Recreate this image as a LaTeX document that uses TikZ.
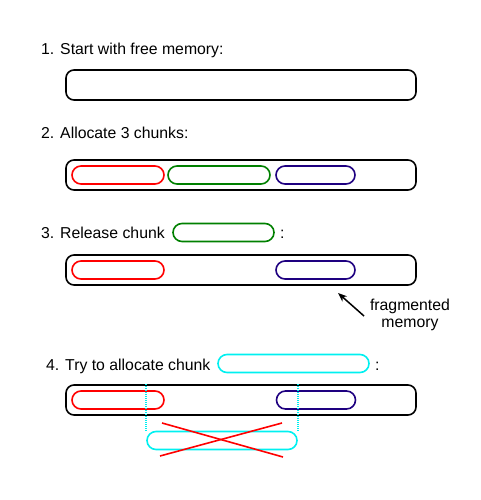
\documentclass[tikz,border=0pt]{standalone}
\usepackage{fontspec}
\setmainfont{Liberation Sans}
\usetikzlibrary{arrows.meta}
\definecolor{chunkred}{RGB}{255,0,0}
\definecolor{chunkgreen}{RGB}{0,128,0}
\definecolor{chunkblue}{RGB}{30,0,128}
\definecolor{chunkcyan}{RGB}{0,240,240}
\begin{document}
\begin{tikzpicture}[x=1pt, y=-1pt,
  caption/.style={anchor=base west, inner sep=0pt, font=\fontsize{15.8}{18}\selectfont},
  memory/.style={draw, line width=1.6pt, rounded corners=8pt, minimum width=350pt, minimum height=30pt, inner sep=0pt},
  chunk/.style={draw, line width=1.6pt, rounded corners=9pt, minimum height=18pt, inner sep=0pt},
  guide/.style={chunkcyan, line width=1.6pt, dash pattern=on 1pt off 1pt}]
  \useasboundingbox (0,0) rectangle (480,500);
  % 1. free memory
  \node[caption] (t1) at (41,55) {1. Start with free memory:};
  \node[memory] (m1) at (241,85) {};
  % 2. three chunks
  \node[caption] (t2) at (41,139) {2. Allocate 3 chunks:};
  \node[memory] (m2) at (241,175) {};
  \node[chunk, chunkred,   minimum width=92pt]  (r2) at (118,175) {};
  \node[chunk, chunkgreen, minimum width=102pt] (g2) at (219,175) {};
  \node[chunk, chunkblue,  minimum width=79pt]  (b2) at (315.5,175) {};
  % 3. release the green one
  \node[caption] (t3) at (41,238) {3. Release chunk};
  \node[chunk, chunkgreen, minimum width=101pt] (g3) at (223.5,232.5) {};
  \node[caption] (c3) at (280,238) {:};
  \node[memory] (m3) at (241,270) {};
  \node[chunk, chunkred,  minimum width=92pt] (r3) at (118,270) {};
  \node[chunk, chunkblue, minimum width=79pt] (b3) at (315.5,270) {};
  \node[align=center, inner sep=0pt, font=\fontsize{15.8}{17}\selectfont] (frag) at (410,315) {fragmented\\memory};
  \coordinate (fragtail) at (364,316);
  \coordinate (fraghead) at (338,293);
  \draw[line width=1.5pt, -{Stealth[length=9pt, width=7pt]}] (fragtail) -- (fraghead);
  % 4. a bigger chunk does not fit
  \node[caption] (t4) at (46,370) {4. Try to allocate chunk};
  \node[chunk, chunkcyan, minimum width=151pt] (c4) at (293.5,363.5) {};
  \node[caption] (col4) at (375,370) {:};
  \node[memory] (m4) at (241,400) {};
  \node[chunk, chunkred,  minimum width=92pt] (r4) at (118,400) {};
  \node[chunk, chunkblue, minimum width=79pt] (b4) at (316,400) {};
  \node[chunk, chunkcyan, minimum width=150pt] (ghost) at (222,440.5) {};
  \draw[guide] (ghost.north west) -- (ghost.north west |- m4.north);
  \draw[guide] (ghost.north east) -- (ghost.north east |- m4.north);
  \coordinate (x1) at (162,423);
  \coordinate (x2) at (283,457);
  \coordinate (x3) at (160,456);
  \coordinate (x4) at (282,423);
  \draw[chunkred, line width=1.6pt] (x1) -- (x2);
  \draw[chunkred, line width=1.6pt] (x3) -- (x4);
\end{tikzpicture}
\end{document}
